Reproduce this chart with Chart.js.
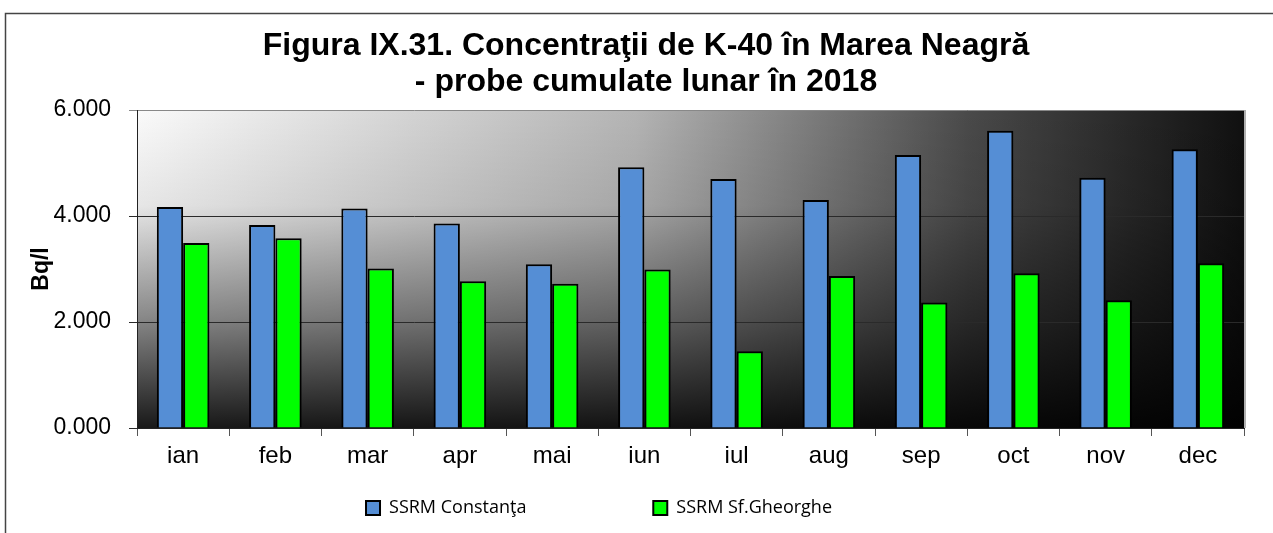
<!DOCTYPE html>
<html>
<head>
<meta charset="utf-8">
<script src="https://cdn.jsdelivr.net/npm/chart.js@4.4.1/dist/chart.umd.min.js"></script>
<style>
    html, body { margin: 0; padding: 0; background: #fff; }
    #wrap { position: relative; width: 1273px; height: 533px; }
</style>
</head>
<body>
<div id="wrap"><canvas id="chart" width="1273" height="533"></canvas></div>
<script>
const months = ['ian', 'feb', 'mar', 'apr', 'mai', 'iun', 'iul', 'aug', 'sep', 'oct', 'nov', 'dec'];
const constanta = [4.17, 3.83, 4.14, 3.86, 3.09, 4.92, 4.70, 4.30, 5.15, 5.61, 4.72, 5.26];
const sfGheorghe = [3.49, 3.58, 3.01, 2.77, 2.72, 2.99, 1.45, 2.87, 2.37, 2.92, 2.41, 3.11];
const seriesNames = ['SSRM Constanţa', 'SSRM Sf.Gheorghe'];
const titleLines = ['Figura IX.31. Concentraţii de K-40 în Marea Neagră', '- probe cumulate lunar în 2018'];
const yTicks = [0, 2, 4, 6];

const sansFont = "'Liberation Sans', Arial, sans-serif";
const legendGap = ' '.repeat(25);

// plot background: light top-left fading to near black bottom / right
const plotBackground = {
    id: 'plotBackground',
    afterLayout(chart) {
        // the original title / legend are not centred on the canvas
        chart.titleBlock.left += 38;
        chart.legend.left -= 56;
    },
    beforeDraw(chart) {
        const { ctx, chartArea: a } = chart;
        ctx.save();
        const h = ctx.createLinearGradient(a.left, 0, a.right, 0);
        h.addColorStop(0, '#fafafa');
        h.addColorStop(0.45, '#b4b4b4');
        h.addColorStop(0.75, '#4a4a4a');
        h.addColorStop(1, '#101010');
        ctx.fillStyle = h;
        ctx.fillRect(a.left, a.top, a.right - a.left, a.bottom - a.top);
        const v = ctx.createLinearGradient(0, a.top, 0, a.bottom);
        v.addColorStop(0, 'rgba(0,0,0,0)');
        v.addColorStop(0.3, 'rgba(0,0,0,0.08)');
        v.addColorStop(0.65, 'rgba(0,0,0,0.45)');
        v.addColorStop(1, 'rgba(0,0,0,0.9)');
        ctx.fillStyle = v;
        ctx.fillRect(a.left, a.top, a.right - a.left, a.bottom - a.top);
        ctx.restore();
    },
    afterDraw(chart) {
        const { ctx, chartArea: a } = chart;
        ctx.save();
        // right edge of plot area
        ctx.strokeStyle = '#b0b0b0';
        ctx.lineWidth = 2;
        ctx.beginPath();
        ctx.moveTo(a.right + 1, a.top);
        ctx.lineTo(a.right + 1, a.bottom);
        ctx.stroke();
        // outer frame (top and left only, rest is cut off)
        ctx.strokeStyle = '#444';
        ctx.lineWidth = 1.5;
        ctx.beginPath();
        ctx.moveTo(5.5, 533);
        ctx.lineTo(5.5, 13.5);
        ctx.lineTo(1273, 13.5);
        ctx.stroke();
        ctx.restore();
    }
};

new Chart(document.getElementById('chart'), {
    type: 'bar',
    data: {
        labels: months,
        datasets: [{
            label: seriesNames[0],
            data: constanta,
            backgroundColor: '#558ed5',
            borderColor: '#000',
            borderWidth: 2
        }, {
            label: seriesNames[1],
            data: sfGheorghe,
            backgroundColor: '#00ff00',
            borderColor: '#000',
            borderWidth: 2
        }]
    },
    options: {
        responsive: false,
        animation: false,
        layout: { padding: { left: 10, right: 29, top: 0, bottom: 6 } },
        datasets: { bar: { categoryPercentage: 0.57, barPercentage: 1 } },
        scales: {
            x: {
                afterFit(scale) { scale.height = 61; },
                grid: { offset: true, drawOnChartArea: false, tickLength: 8, color: '#555' },
                border: { color: '#222', width: 1 },
                ticks: { color: '#000', font: { family: sansFont, size: 24 }, padding: 6 }
            },
            y: {
                min: 0,
                max: 6,
                afterBuildTicks(scale) {
                    scale.ticks = yTicks.map(v => ({ value: v }));
                },
                afterFit(scale) { scale.width = 127; },
                grid: {
                    tickLength: 8,
                    color: ctx => ctx.tick && ctx.tick.value === 6 ? '#888' : '#2a2a2a'
                },
                border: { color: '#222', width: 1 },
                ticks: {
                    color: '#000',
                    font: { family: sansFont, size: 23 },
                    padding: 18,
                    callback: v => v.toFixed(3)
                },
                title: {
                    display: true,
                    text: 'Bq/l',
                    color: '#000',
                    font: { family: sansFont, size: 23, weight: 'bold' },
                    padding: { top: 18, bottom: 0 }
                }
            }
        },
        plugins: {
            title: {
                display: true,
                text: titleLines,
                color: '#000',
                font: { family: sansFont, size: 32, weight: 'bold', lineHeight: 1.125 },
                padding: { top: 28, bottom: 10 }
            },
            legend: {
                position: 'bottom',
                labels: {
                    color: '#000',
                    font: { family: "'Open Sans', 'Noto Sans', sans-serif", size: 18 },
                    boxWidth: 14,
                    boxHeight: 14,
                    padding: 10,
                    useBorderRadius: false,
                    generateLabels(chart) {
                        const items = Chart.defaults.plugins.legend.labels.generateLabels(chart);
                        items[0].text += legendGap;
                        return items;
                    }
                }
            },
            tooltip: { enabled: false }
        }
    },
    plugins: [plotBackground]
});
</script>
</body>
</html>
